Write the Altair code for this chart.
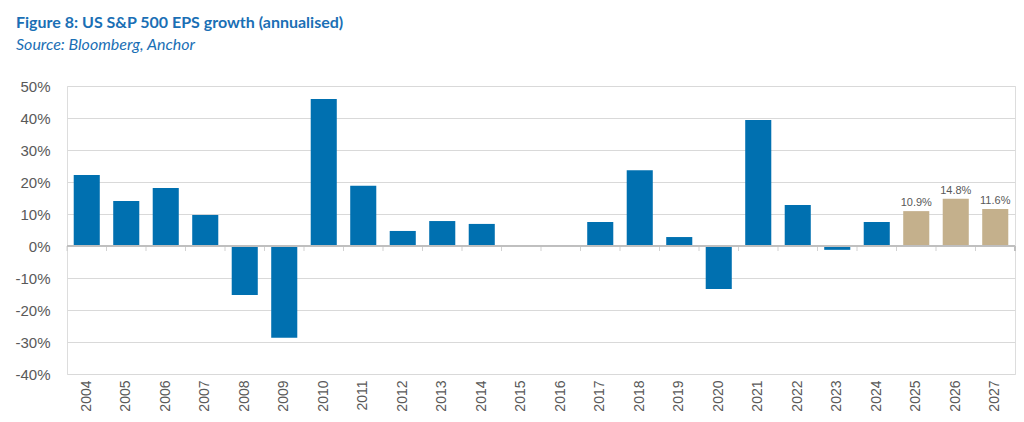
import altair as alt
import pandas as pd

years = [str(y) for y in range(2004, 2028)]
growth = [22.2, 14.1, 18.1, 9.7, -15.3, -28.7, 45.9, 18.8, 4.7, 7.8, 6.9, 0.0,
          0.2, 7.5, 23.7, 2.8, -13.4, 39.4, 12.8, -1.2, 7.5, 10.9, 14.8, 11.6]
kind = ["actual"] * 21 + ["forecast"] * 3
labels = [""] * 21 + ["10.9%", "14.8%", "11.6%"]
yticks = [-0.4, -0.3, -0.2, -0.1, 0.0, 0.1, 0.2, 0.3, 0.4, 0.5]

df = pd.DataFrame({"year": years, "growth": [g / 100 for g in growth],
                   "kind": kind, "label": labels})
df["zero"] = 0.0

W, H = 948, 288
PI = 0.34
STEP = W / len(years)
ZERO_PX = H * 0.5 / 0.9
xscale = alt.Scale(paddingInner=PI, paddingOuter=PI / 2)
yscale = alt.Scale(domain=[-0.4, 0.5], nice=False)

xaxis = alt.Axis(labelAngle=-90, labelFont="Liberation Sans", labelFontSize=14,
                 labelColor="#595959", domain=False, ticks=False, labelPadding=6,
                 labelAlign="right", labelBaseline="middle", grid=False)
yaxis = alt.Axis(values=yticks, tickCount=10,
                 labelExpr="round(datum.value*100) + '%'", labelOverlap=False,
                 labelFont="Liberation Sans", labelFontSize=15, labelColor="#595959",
                 domain=False, ticks=False, labelPadding=17, grid=True,
                 gridColor="#d9d9d9", gridWidth=1)

x = alt.X("year:N", scale=xscale, sort=years, title=None, axis=xaxis)
y = alt.Y("growth:Q", scale=yscale, title=None, axis=yaxis)
yz = alt.Y("zero:Q", scale=yscale, title=None, axis=yaxis)

bars = alt.Chart(df).mark_bar().encode(
    x=x, y=y,
    color=alt.Color("kind:N", scale=alt.Scale(domain=["actual", "forecast"],
                                              range=["#0070b0", "#c4b08c"]), legend=None),
)

text = alt.Chart(df).mark_text(dy=-8, font="Liberation Sans", fontSize=11,
                               color="#595959").encode(x=x, y=y, text="label:N")

zero = alt.Chart(df).mark_rule(color="#bfbfbf", strokeWidth=1).encode(
    x=alt.value(0), x2=alt.value(W), y=yz)

ticks = alt.Chart(df).mark_tick(color="#bfbfbf", orient="vertical", size=5, thickness=1,
                                xOffset=-PI / 2 * STEP).encode(
    x=alt.X("year:N", scale=xscale, sort=years, title=None, axis=xaxis, bandPosition=0),
    y=alt.value(ZERO_PX + 2.5))

lasttick = alt.Chart(df).mark_rule(color="#bfbfbf", strokeWidth=1).encode(
    x=alt.value(W), y=alt.value(ZERO_PX), y2=alt.value(ZERO_PX + 5))

chart = alt.layer(bars, text, zero, ticks, lasttick).properties(
    width=W, height=H,
    autosize=alt.AutoSizeParams(type="none"),
    padding={"left": 59, "top": 78, "right": 1, "bottom": 40},
    title=alt.TitleParams(
        text="Figure 8: US S&P 500 EPS growth (annualised)",
        subtitle="Source: Bloomberg, Anchor",
        anchor="start", frame="group", dx=-51, offset=26,
        font="Lato", fontSize=16, fontWeight="bold", color="#1a6fb5",
        subtitleFont="Lato", subtitleFontSize=16, subtitleFontStyle="italic",
        subtitleColor="#1a6fb5", subtitlePadding=6),
).configure_view(stroke=None).configure_axisX(grid=False).configure(background="white")

chart.save("out.html", embed_options={"renderer": "svg", "actions": False})
